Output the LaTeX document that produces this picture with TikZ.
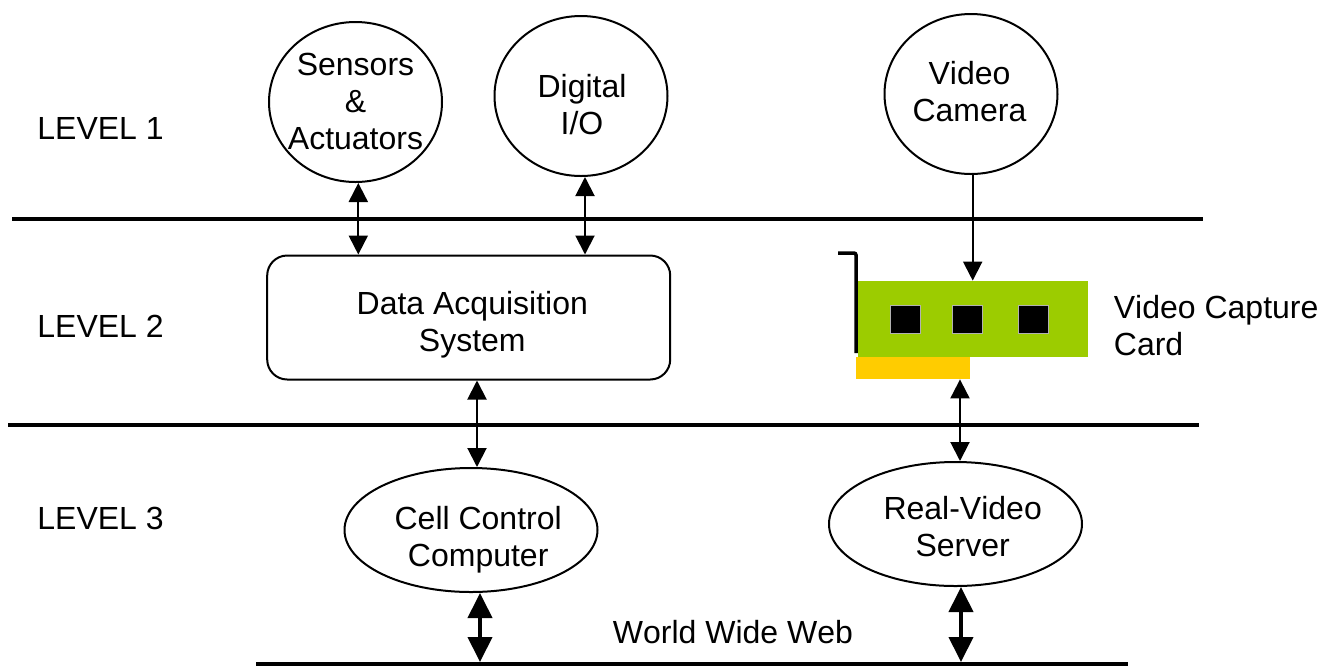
\documentclass[tikz,border=0pt]{standalone}
\usepackage{fontspec}
\setmainfont{Liberation Sans}[Kerning=Off]
\usetikzlibrary{arrows.meta,shapes.geometric}
\tikzset{
    lbl/.style={align=center,font=\fontsize{16}{18.5}\selectfont,inner sep=0pt},
    circ/.style={draw,ellipse,line width=1pt,inner sep=0pt,minimum width=86.5pt,minimum height=80pt},
    oval/.style={draw,ellipse,line width=1pt,inner sep=0pt,minimum width=126.5pt,minimum height=62pt},
    sysbox/.style={draw,rounded corners=10pt,line width=1pt,inner sep=0pt,minimum width=201.5pt,minimum height=62pt},
    chip/.style={draw=black!30,fill=black,line width=0.5pt,minimum width=15pt,minimum height=14pt,inner sep=0pt},
    bus/.style={line width=2pt},
    link/.style={line width=1pt,{Triangle[width=9.5pt,length=9.5pt]}-{Triangle[width=9.5pt,length=9.5pt]}},
    feed/.style={line width=1pt,-{Triangle[width=9.5pt,length=9.5pt]}},
    weblink/.style={line width=2pt,shorten >=1pt,{Triangle[width=12pt,length=12.5pt]}-{Triangle[width=12pt,length=12.5pt]}}
}
\definecolor{cardgreen}{HTML}{9CCC00}
\definecolor{slotorange}{HTML}{FFCC00}
\begin{document}
\begin{tikzpicture}[x=0.5pt,y=-0.5pt]
    \useasboundingbox (0,0) rectangle (1330,666);
    % levels
    \node[lbl,anchor=west] (level1) at (37,128) {LEVEL 1};
    \node[lbl,anchor=west] (level2) at (37,326) {LEVEL 2};
    \node[lbl,anchor=west] (level3) at (37,518) {LEVEL 3};
    % bus lines
    \coordinate (busAw) at (12,219);
    \coordinate (busAe) at (1203,219);
    \coordinate (busBw) at (8,425);
    \coordinate (busBe) at (1199,425);
    \coordinate (webw) at (256,664);
    \coordinate (webe) at (1128,664);
    \draw[bus] (busAw) -- (busAe);
    \draw[bus] (busBw) -- (busBe);
    \draw[bus] (webw) -- (webe);
    % nodes
    \node[circ,label={[lbl,yshift=0.25pt]center:{Sensors\\\&\\Actuators}}] (sensors) at (355.5,102) {};
    \node[circ,label={[lbl,xshift=0.5pt,yshift=-4.25pt]center:{Digital\\I/O}}] (digital) at (581,96) {};
    \node[circ,label={[lbl,xshift=-0.75pt,yshift=1pt]center:{Video\\Camera}}] (camera) at (971,94) {};
    \node[sysbox,label={[lbl,xshift=1.8pt,yshift=-3.75pt]center:{Data Acquisition\\System}}] (daq) at (468.7,317.5) {};
    \node[oval,label={[lbl,xshift=3.6pt,yshift=-5pt]center:{Cell Control\\Computer}}] (cell) at (471,530) {};
    \node[oval,label={[lbl,xshift=3.6pt,yshift=-1.3pt]center:{Real-Video\\Server}}] (server) at (955.5,524) {};
    \node[lbl,anchor=west,align=left] (cardlabel) at (1113.5,326) {Video Capture\\Card};
    \node[lbl] (www) at (733,632) {World Wide Web};
    % capture card
    \node[fill=cardgreen,minimum width=115pt,minimum height=38pt,inner sep=0pt] (card) at (973,319) {};
    \node[fill=slotorange,minimum width=57pt,minimum height=11pt,inner sep=0pt] (slot) at (913,368) {};
    \node[chip] (chipA) at (905.3,319.7) {};
    \node[chip] (chipB) at (967.5,319.7) {};
    \node[chip] (chipC) at (1033.5,319.7) {};
    \coordinate (bracketA) at (838,253);
    \coordinate (bracketB) at (856,253);
    \coordinate (bracketC) at (856,353);
    \draw[line width=1.75pt,rounded corners=1pt] (bracketA) -- (bracketB) -- (bracketC);
    % connectors
    \draw[link] ([xshift=1.4pt]sensors.south) -- ([xshift=1.4pt]sensors.south |- daq.north);
    \draw[link] ([xshift=2pt]digital.south) -- ([xshift=2pt]digital.south |- daq.north);
    \draw[feed] ([xshift=0.85pt]camera.south) -- ([xshift=0.85pt]camera.south |- card.north);
    \draw[link] ([xshift=3pt]cell.north |- daq.south) -- ([xshift=3pt]cell.north);
    \draw[link] ([xshift=2.25pt]server.north |- slot.south) -- ([xshift=2.25pt]server.north);
    \draw[weblink] ([xshift=4.5pt]cell.south) -- ([xshift=4.5pt]cell.south |- webw);
    \draw[weblink] ([xshift=2.75pt]server.south) -- ([xshift=2.75pt]server.south |- webw);
\end{tikzpicture}
\end{document}
